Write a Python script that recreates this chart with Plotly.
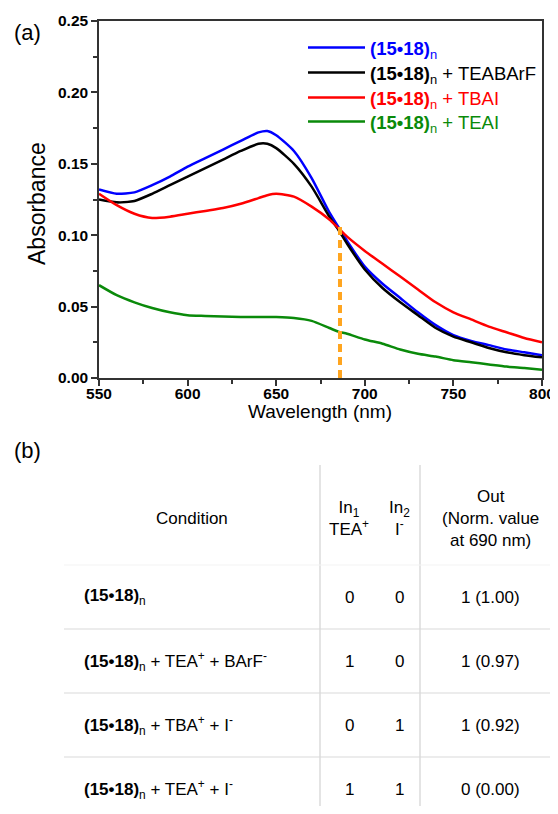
import plotly.graph_objects as go

# ---------------- data: panel (a) ----------------
wavelength = [550, 560, 570, 580, 590, 600, 610, 620, 630, 640, 645, 650, 660, 670,
              680, 685, 690, 700, 710, 720, 730, 740, 750, 760, 770, 780, 790, 800]
abs_polymer = [0.132, 0.129, 0.130, 0.135, 0.141, 0.148, 0.154, 0.160, 0.166, 0.172, 0.173,
               0.170, 0.159, 0.140, 0.116, 0.106, 0.096, 0.078, 0.066, 0.056, 0.046, 0.037,
               0.030, 0.026, 0.023, 0.020, 0.018, 0.016]
abs_teabarf = [0.125, 0.123, 0.124, 0.129, 0.135, 0.141, 0.147, 0.153, 0.159, 0.164, 0.164,
               0.161, 0.150, 0.134, 0.113, 0.104, 0.094, 0.076, 0.063, 0.053, 0.044, 0.035,
               0.029, 0.025, 0.021, 0.018, 0.016, 0.0145]
abs_tbai = [0.129, 0.121, 0.115, 0.112, 0.113, 0.115, 0.117, 0.119, 0.122, 0.126, 0.128,
            0.129, 0.127, 0.120, 0.111, 0.105, 0.099, 0.089, 0.080, 0.071, 0.062, 0.053,
            0.046, 0.041, 0.036, 0.032, 0.028, 0.025]
abs_teai = [0.065, 0.058, 0.053, 0.049, 0.046, 0.044, 0.0435, 0.043, 0.0428, 0.0428, 0.0428,
            0.0427, 0.042, 0.040, 0.035, 0.0325, 0.031, 0.027, 0.024, 0.020, 0.017, 0.015,
            0.0125, 0.011, 0.0095, 0.008, 0.007, 0.0058]
marker_wavelength = 686
marker_top = 0.108

series_labels = ["(15•18)n", "(15•18)n + TEABArF", "(15•18)n + TBAI", "(15•18)n + TEAI"]
x_ticks = [550, 600, 650, 700, 750, 800]
y_ticks = [0.00, 0.05, 0.10, 0.15, 0.20, 0.25]

# ---------------- data: panel (b) ----------------
conditions = ["(15•18)n", "(15•18)n + TEA+ + BArF-", "(15•18)n + TBA+ + I-", "(15•18)n + TEA+ + I-"]
in1_values = [0, 1, 0, 1]
in2_values = [0, 0, 1, 1]
out_values = [1, 1, 1, 0]
norm_values = [1.00, 0.97, 0.92, 0.00]
header_labels = ["Condition", "In<sub>1</sub><br>TEA<sup>+</sup>", "In<sub>2</sub><br>I<sup>-</sup>",
                 "Out<br>(Norm. value<br>at 690 nm)"]

# ---------------- styles / layout constants ----------------
# The page body has an 8px margin, so the figure is made smaller and all
# layout positions (given in window pixels) are converted with that offset.
OFF = 8
WIN_W, WIN_H = 558, 814
W, H = WIN_W - OFF, WIN_H - 2 * OFF
FONT = "Liberation Sans, Arial, Helvetica, sans-serif"
colors = ["#0000ff", "#000000", "#ff0000", "#0a8a0a"]
PLOT_L, PLOT_R, PLOT_T, PLOT_B = 99, 542, 21, 378
LEGEND_X, LEGEND_ROWS = 303, [48, 73, 98, 122]


def px(x):
    return (x - OFF) / W


def py(y):
    return 1 - (y - OFF) / H


def chem(label):
    """Convert plain label to rich text: bold (15•18), subscript n, super/sub charges."""
    core = label.replace("(15•18)n", "<b>(15•18)</b><sub>n</sub>")
    core = core.replace("TEA+", "TEA<sup>+</sup>").replace("TBA+", "TBA<sup>+</sup>")
    core = core.replace("BArF-", "BArF<sup>-</sup>").replace("I-", "I<sup>-</sup>")
    return core


fig = go.Figure()

series = [abs_polymer, abs_teabarf, abs_tbai, abs_teai]
legend_ids = ["legend", "legend2", "legend3", "legend4"]
for vals, lab, col, lid in zip(series, series_labels, colors, legend_ids):
    fig.add_trace(go.Scatter(
        x=wavelength, y=vals, mode="lines",
        line=dict(color=col, width=2.5, shape="spline", smoothing=0.6),
        name=f"<span style='color:{col}'>{chem(lab)}</span>",
        legend=lid, xaxis="x", yaxis="y",
    ))

fig.add_trace(go.Scatter(
    x=[marker_wavelength, marker_wavelength], y=[0, marker_top], mode="lines",
    line=dict(color="#ffa51f", width=4, dash="8px,5px"), showlegend=False,
    xaxis="x", yaxis="y",
))

axis_common = dict(
    showline=True, linecolor="#333333", linewidth=1.5, mirror=True,
    ticks="outside", ticklen=6, tickwidth=1.5, tickcolor="#333333",
    showgrid=False, zeroline=False, automargin=False,
    tickfont=dict(family=FONT, size=15.5, color="black", weight="bold"),
)

fig.update_layout(
    template="none",
    width=W, height=H, autosize=False,
    margin=dict(l=0, r=0, t=0, b=0, pad=0, autoexpand=False),
    paper_bgcolor="white", plot_bgcolor="white",
    font=dict(family=FONT, color="black"),
    xaxis=dict(domain=[px(PLOT_L), px(PLOT_R)], range=[550, 800], tickvals=x_ticks,
               ticklabelstandoff=-5,
               minor=dict(dtick=25, ticks="outside", ticklen=4, tickwidth=1.5, tickcolor="#333333"),
               anchor="y", **axis_common),
    yaxis=dict(domain=[py(PLOT_B), py(PLOT_T)], range=[0, 0.25], tickvals=y_ticks,
               tickformat=".2f",
               minor=dict(dtick=0.025, ticks="outside", ticklen=4, tickwidth=1.5, tickcolor="#333333"),
               anchor="x", **axis_common),
)
for lid, ry in zip(legend_ids, LEGEND_ROWS):
    fig.update_layout({lid: dict(x=px(LEGEND_X), xanchor="left", y=py(ry), yanchor="middle",
                                 bgcolor="rgba(0,0,0,0)", borderwidth=0, itemwidth=57,
                                 font=dict(family=FONT, size=18.5))})

# ---------------- table axes ----------------
TABLE_TOP, HEADER_BOTTOM, ROW_H = 465, 565, 64
y_bottom = (WIN_H - OFF - HEADER_BOTTOM) / ROW_H
y_top = -(HEADER_BOTTOM - TABLE_TOP) / ROW_H
fig.update_layout(
    xaxis2=dict(domain=[0, 1], range=[OFF, WIN_W], visible=False, anchor="y2", fixedrange=True,
                automargin=False),
    yaxis2=dict(domain=[0, py(TABLE_TOP)], range=[y_bottom, y_top], visible=False,
                anchor="x2", fixedrange=True, automargin=False),
)

COL_COND_HEAD, COL_COND_LEFT = 192, 82
COL_IN1, COL_IN2, COL_OUT = 349, 399, 490
VLINES = [320, 420]
HLINE_X0 = 64
TFONT = dict(family=FONT, size=17, color="black")

# grid lines
for vx in VLINES:
    fig.add_shape(type="line", xref="x2", yref="y2", x0=vx, x1=vx, y0=y_top, y1=y_bottom,
                  line=dict(color="#c9c9c9", width=1))
for k in range(len(conditions)):
    fig.add_shape(type="line", xref="x2", yref="y2", x0=HLINE_X0, x1=WIN_W, y0=k, y1=k,
                  line=dict(color="#f3f3f3" if k == 0 else "#d9d9d9", width=1))

# header
header_y = y_top / 2 + 3 / ROW_H
for text, xpos in zip(header_labels, [COL_COND_HEAD, COL_IN1, COL_IN2, COL_OUT]):
    fig.add_annotation(x=xpos, y=header_y, xref="x2", yref="y2", text=text, showarrow=False,
                       font=TFONT, xanchor="center", yanchor="middle", align="center")

# rows
for i, cond in enumerate(conditions):
    yc = i + 0.5
    fig.add_annotation(x=COL_COND_LEFT, y=yc, xref="x2", yref="y2", text=chem(cond),
                       showarrow=False, font=TFONT, xanchor="left", yanchor="middle")
    fig.add_annotation(x=COL_IN1, y=yc, xref="x2", yref="y2", text=str(in1_values[i]),
                       showarrow=False, font=TFONT, xanchor="center", yanchor="middle")
    fig.add_annotation(x=COL_IN2, y=yc, xref="x2", yref="y2", text=str(in2_values[i]),
                       showarrow=False, font=TFONT, xanchor="center", yanchor="middle")
    fig.add_annotation(x=COL_OUT, y=yc, xref="x2", yref="y2",
                       text=f"{out_values[i]} ({norm_values[i]:.2f})",
                       showarrow=False, font=TFONT, xanchor="center", yanchor="middle")

# panel labels and axis titles
fig.add_annotation(x=px(27), y=py(33), xref="paper", yref="paper", text="(a)", showarrow=False,
                   font=dict(family=FONT, size=22), xanchor="center", yanchor="middle")
fig.add_annotation(x=px(27), y=py(450), xref="paper", yref="paper", text="(b)", showarrow=False,
                   font=dict(family=FONT, size=22), xanchor="center", yanchor="middle")
fig.add_annotation(x=px(37), y=py(204), xref="paper", yref="paper", text="Absorbance",
                   textangle=-90, showarrow=False, font=dict(family=FONT, size=23),
                   xanchor="center", yanchor="middle")
fig.add_annotation(x=px(320), y=py(411), xref="paper", yref="paper", text="Wavelength (nm)",
                   showarrow=False, font=dict(family=FONT, size=19),
                   xanchor="center", yanchor="middle")

fig.write_html("out.html")
